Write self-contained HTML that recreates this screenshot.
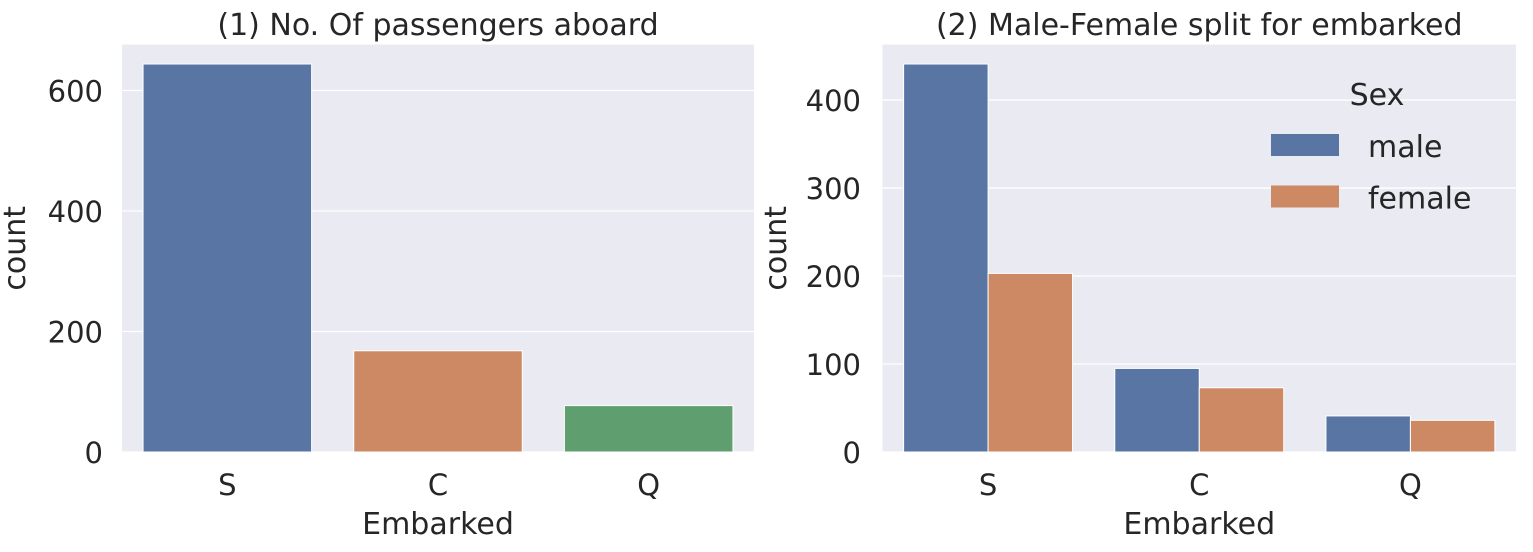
<!DOCTYPE html>
<html><head><meta charset="utf-8"><style>
body{margin:0;background:#fff;}
svg text{font-family:"DejaVu Sans","Liberation Sans",sans-serif;fill:#262626;}
</style></head><body>
<svg id="chart" width="1533" height="547" xmlns="http://www.w3.org/2000/svg"></svg>
<script>
const categories = ["S","C","Q"];
const totalCounts = [644,168,77];
const maleCounts = [441,95,41];
const femaleCounts = [203,73,36];
const leftTicks = [0,200,400,600];
const rightTicks = [0,100,200,300,400];
const hueLabels = ["male","female"];

const NS="http://www.w3.org/2000/svg";
const svg=document.getElementById('chart');
function mk(tag,attrs,parent){const e=document.createElementNS(NS,tag);for(const k in attrs)e.setAttribute(k,attrs[k]);(parent||svg).appendChild(e);return e;}
const blue="#5875a4",orange="#cc8963",green="#5f9e6e";

function drawAxes(name,x0,x1,top,bottom,ymax,ticks,title,tickRight,ylabX){
  const g=mk('g',{});
  
  
  const bg=mk('rect',{x:x0,y:top,width:x1-x0,height:bottom-top,fill:'#eaeaf2'},g);
  
  
  const y=v=>bottom-v/ymax*(bottom-top);
  ticks.forEach(t=>{
    const l=mk('line',{x1:x0,x2:x1,y1:y(t),y2:y(t),stroke:'#fff','stroke-width':1.3},g);
    
    
    const tx=mk('text',{x:tickRight,y:y(t)+11,'text-anchor':'end','font-size':29},g);
    tx.textContent=t;
    
    
  });
  const cw=(x1-x0)/categories.length;
  categories.forEach((c,i)=>{
    const tx=mk('text',{x:x0+cw*(i+0.5),y:495,'text-anchor':'middle','font-size':29},g);
    tx.textContent=c;
    
    
  });
  const tt=mk('text',{x:(x0+x1)/2,y:35,'text-anchor':'middle','font-size':30},g);
  tt.textContent=title;
  
  
  const xl=mk('text',{x:(x0+x1)/2,y:534,'text-anchor':'middle','font-size':30},g);
  xl.textContent='Embarked';
  
  
  const yl=mk('text',{x:0,y:0,'text-anchor':'middle','font-size':30,transform:`translate(${ylabX},${(top+bottom)/2}) rotate(-90)`},g);
  yl.textContent='count';
  
  
  return {y,cw,g};
}

// Left chart
const L=drawAxes('left-chart',122,754,44.6,452,Math.max(...totalCounts)*1.05,leftTicks,'(1) No. Of passengers aboard',103,25);
const lcols=[blue,orange,green];
totalCounts.forEach((v,i)=>{
  const bw=L.cw*0.8;
  const r=mk('rect',{x:122+L.cw*i+L.cw*0.1,y:L.y(v),width:bw,height:452-L.y(v),fill:lcols[i],stroke:'#fff','stroke-width':1},L.g);
  
  
});

// Right chart
const R=drawAxes('right-chart',882.5,1516,44.6,452,Math.max(...maleCounts)*1.05,rightTicks,'(2) Male-Female split for embarked',861,786);
[maleCounts,femaleCounts].forEach((arr,h)=>{
  arr.forEach((v,i)=>{
    const bw=R.cw*0.4;
    const r=mk('rect',{x:882.5+R.cw*i+R.cw*0.1+bw*h,y:R.y(v),width:bw,height:452-R.y(v),fill:h?orange:blue,stroke:'#fff','stroke-width':1},R.g);
    
    
  });
});

// Legend
const lg=mk('g',{});


const lt=mk('text',{x:1377,y:105,'text-anchor':'middle','font-size':30},lg);
lt.textContent='Sex';


hueLabels.forEach((lab,h)=>{
  const yy=134+h*51.5;
  const p=mk('rect',{x:1271,y:yy,width:68,height:22,fill:h?orange:blue},lg);
  
  
  const t=mk('text',{x:1368,y:yy+23,'font-size':30},lg);
  t.textContent=lab;
  
  
});
</script>
</body></html>
